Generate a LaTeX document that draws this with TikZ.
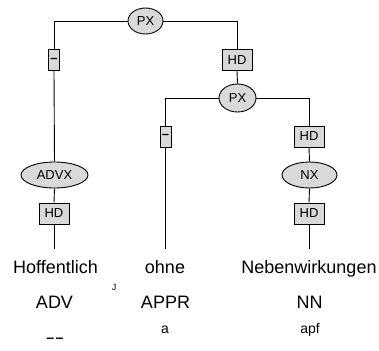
\documentclass[tikz,border=0pt]{standalone}
\usepackage{fontspec}
\setmainfont{Liberation Sans}
\usetikzlibrary{shapes.geometric}
\definecolor{nodefill}{RGB}{217,217,217}
\tikzset{
  edge/.style={line width=0.9pt, black},
  ell/.style={ellipse, draw=black, line width=0.9pt, fill=nodefill, inner sep=0pt, font=\fontsize{13}{13}\selectfont},
  boxn/.style={rectangle, draw=black, line width=0.9pt, fill=nodefill, inner sep=0pt, minimum height=21pt, font=\fontsize{13}{13}\selectfont},
  word/.style={anchor=base, inner sep=0pt, font=\fontsize{18}{18}\selectfont},
  small/.style={anchor=base, inner sep=0pt, font=\fontsize{14}{14}\selectfont},
}
\begin{document}
\begin{tikzpicture}[x=1pt,y=-1pt]
\useasboundingbox (0,0) rectangle (379,350);
% nodes
\node[ell, minimum width=35pt, minimum height=26pt] (px1) at (145.5,21) {PX};
\node[boxn, minimum width=11pt] (dash1) at (54,60) {\textbf{–}};
\node[boxn, minimum width=30pt] (hd1) at (237,60) {HD};
\node[ell, minimum width=37pt, minimum height=28pt] (px2) at (237.5,98) {PX};
\node[boxn, minimum width=11pt] (dash2) at (165.5,136.5) {\textbf{–}};
\node[boxn, minimum width=30pt] (hd2) at (309,136.5) {HD};
\node[ell, minimum width=67pt, minimum height=26pt] (advx) at (54.5,175) {ADVX};
\node[ell, minimum width=55pt, minimum height=26pt] (nx) at (309.5,175) {NX};
\node[boxn, minimum width=30pt] (hd3) at (54,213.5) {HD};
\node[boxn, minimum width=30pt] (hd4) at (309,213.5) {HD};
\coordinate (e1) at (54,249);
\coordinate (e2) at (165.5,249);
\coordinate (e3) at (309,249);
% words
\node[word] (w1) at (55.5,273) {Hoffentlich};
\node[word] (w2) at (165,273) {ohne};
\node[word] (w3) at (309,273) {Nebenwirkungen};
\node[word] (p1) at (54.5,308) {ADV};
\node[word] (p2) at (165.5,308) {APPR};
\node[word] (p3) at (309.5,308) {NN};
\node[small] (m1) at (55,342) {\textbf{–}\kern1.5pt\textbf{–}};
\node[small] (m2) at (165,333) {a};
\node[small] (m3) at (310,333) {apf};
\node[anchor=base, inner sep=0pt, font=\fontsize{9}{9}\selectfont] (j) at (114,290) {J};
% connectors
\draw[edge] (px1.west) -| (dash1.north);
\draw[edge] (px1.east) -| (hd1.north);
\draw[edge] (hd1.south) -- (px2.north);
\draw[edge] (px2.west) -| (dash2.north);
\draw[edge] (px2.east) -| (hd2.north);
\draw[edge] (dash1.south) -- (advx.north);
\draw[edge] (advx.south) -- (hd3.north);
\draw[edge] (hd3.south) -- (e1);
\draw[edge] (dash2.south) -- (e2);
\draw[edge] (hd2.south) -- (nx.north);
\draw[edge] (nx.south) -- (hd4.north);
\draw[edge] (hd4.south) -- (e3);
\end{tikzpicture}
\end{document}
